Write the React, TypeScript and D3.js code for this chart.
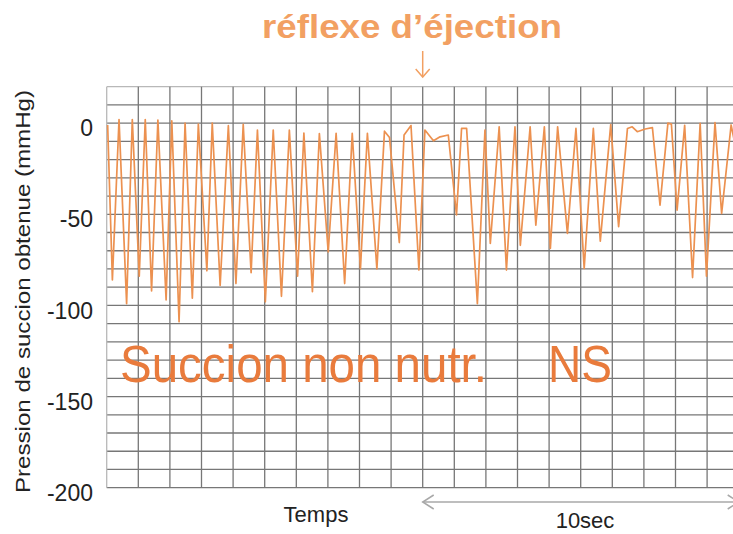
import * as d3 from "d3";

// pression de succion (secondes, mmHg)
const temps = [
  0.03, 0.18, 0.39, 0.63, 0.81, 1.03, 1.22, 1.42, 1.62, 1.88, 2.06, 2.29, 2.48,
  2.71, 2.9, 3.17, 3.34, 3.59, 3.85, 4.09, 4.32, 4.57, 4.77, 5.02, 5.27, 5.53,
  5.78, 6.04, 6.24, 6.51, 6.73, 7.01, 7.26, 7.53, 7.77, 8.03, 8.25, 8.55, 8.79,
  8.95, 9.26, 9.41, 9.63, 9.88, 10.07, 10.34, 10.55, 10.81, 11.07, 11.23,
  11.39, 11.73, 11.97, 12.14, 12.42, 12.65, 12.92, 13.09, 13.4, 13.58, 13.85,
  14.04, 14.27, 14.58, 14.85, 15.11, 15.4, 15.62, 15.95, 16.2, 16.48, 16.63,
  16.79, 17.04, 17.27, 17.51, 17.76, 17.87, 18.05, 18.29, 18.54, 18.78, 18.98,
  19.25, 19.46, 19.76, 19.98,
];
const pression = [
  -1, -86, 2, -99, 2, -84, 2, -92, 1.7, -97, 1.2, -109, 0, -96, -0.5, -81, 0,
  -89, -1.4, -88, -0.7, -82, -3.8, -98, -3.8, -95, -3.8, -84, -5.4, -92.5,
  -5.7, -70.6, -5.6, -88, -5.6, -80, -5.6, -80, -4.4, -7.9, -65.5, -6.5, -1.3,
  -80.6, -3.8, -9.7, -7.5, -6.5, -50.4, -2.9, -2.9, -99, -3.8, -66, -2, -80.6,
  -2, -67, -2, -56, -2, -68.7, -2, -60.5, -2.9, -79.7, -2.9, -64.7, -0.8,
  -56.8, -2.9, -2, -4.7, -3.2, -2.5, -45, 0, -0.5, -47.7, -1.2, -84.7, -0.1,
  -84, 0.3, -49.5, -1, -20,
];
const yTicks = [0, -50, -100, -150, -200];

const W = 733;
const H = 534;

export default function App() {
  const x = d3.scaleLinear().domain([0, 20]).range([106.7, 738.7]);
  const y = d3.scaleLinear().domain([-200, 20]).range([487.7, 86.7]);

  const data = temps.map((t, i) => ({ t, p: pression[i] }));
  const line = d3
    .line<{ t: number; p: number }>()
    .x((d) => x(d.t))
    .y((d) => y(d.p));

  const hLines = d3.range(-200, 21, 10);
  const vLines = d3.range(0, 21, 1);
  const font = "'Liberation Sans', Arial, Helvetica, sans-serif";

  return (
    <svg
      width={W}
      height={H}
      style={{ position: "absolute", left: 0, top: 0, background: "#fff" }}
      fontFamily={font}
    >
      {/* grille */}
      <g>
        {hLines.map((v) => (
          <line
            key={`h${v}`}
            x1={x(0)}
            x2={x(20)}
            y1={y(v)}
            y2={y(v)}
            stroke={v === 20 ? "#b8b8b8" : "#777"}
            strokeWidth={1.3}
          />
        ))}
        {vLines.map((t) => (
          <line
            key={`v${t}`}
            x1={x(t)}
            x2={x(t)}
            y1={y(20)}
            y2={y(-200)}
            stroke={t === 0 ? "#b8b8b8" : "#777"}
            strokeWidth={1.3}
          />
        ))}
      </g>

      <path
        d={line(data) || undefined}
        fill="none"
        stroke="#ec9150"
        strokeWidth={1.7}
        strokeLinejoin="round"
      />

      {/* axe Y */}
      {yTicks.map((v) => (
        <text
          key={v}
          x={93}
          y={y(v) + 7}
          textAnchor="end"
          dominantBaseline="middle"
          fontSize={23}
          fill="#222"
        >
          {v}
        </text>
      ))}
      <text
        transform={`translate(30, ${(90 + 493) / 2}) rotate(-90)`}
        textAnchor="middle"
        fontSize={21}
        textLength={403}
        lengthAdjust="spacingAndGlyphs"
        fill="#222"
      >
        Pression de succion obtenue (mmHg)
      </text>

      {/* annotations */}
      <text
        x={262}
        y={38}
        fontSize={33}
        fontWeight="bold"
        fill="#f2a062"
        textLength={300}
        lengthAdjust="spacingAndGlyphs"
      >
        réflexe d’éjection
      </text>
      <g stroke="#f2a062" strokeWidth={1.5} fill="none">
        <line x1={x(10)} x2={x(10)} y1={51} y2={77} />
        <polyline
          points={`${x(10) - 7},${69} ${x(10)},${77} ${x(10) + 7},${69}`}
        />
      </g>

      <text
        x={120}
        y={382}
        fontSize={52}
        fill="#e97b3c"
        textLength={367}
        lengthAdjust="spacingAndGlyphs"
      >
        Succion non nutr.
      </text>
      <text
        x={548}
        y={382}
        fontSize={52}
        fill="#e97b3c"
        textLength={64}
        lengthAdjust="spacingAndGlyphs"
      >
        NS
      </text>

      {/* axe X */}
      <text x={316} y={522} textAnchor="middle" fontSize={22} fill="#222">
        Temps
      </text>
      <g stroke="#a8a8a8" strokeWidth={1.5} fill="none">
        <line x1={x(10)} x2={x(20)} y1={502} y2={502} />
        <polyline
          points={`${x(10) + 11},${495} ${x(10)},${502} ${x(10) + 11},${509}`}
        />
        <polyline
          points={`${x(20) - 11},${495} ${x(20)},${502} ${x(20) - 11},${509}`}
        />
      </g>
      <text x={585} y={528} textAnchor="middle" fontSize={22} fill="#222">
        10sec
      </text>
    </svg>
  );
}
